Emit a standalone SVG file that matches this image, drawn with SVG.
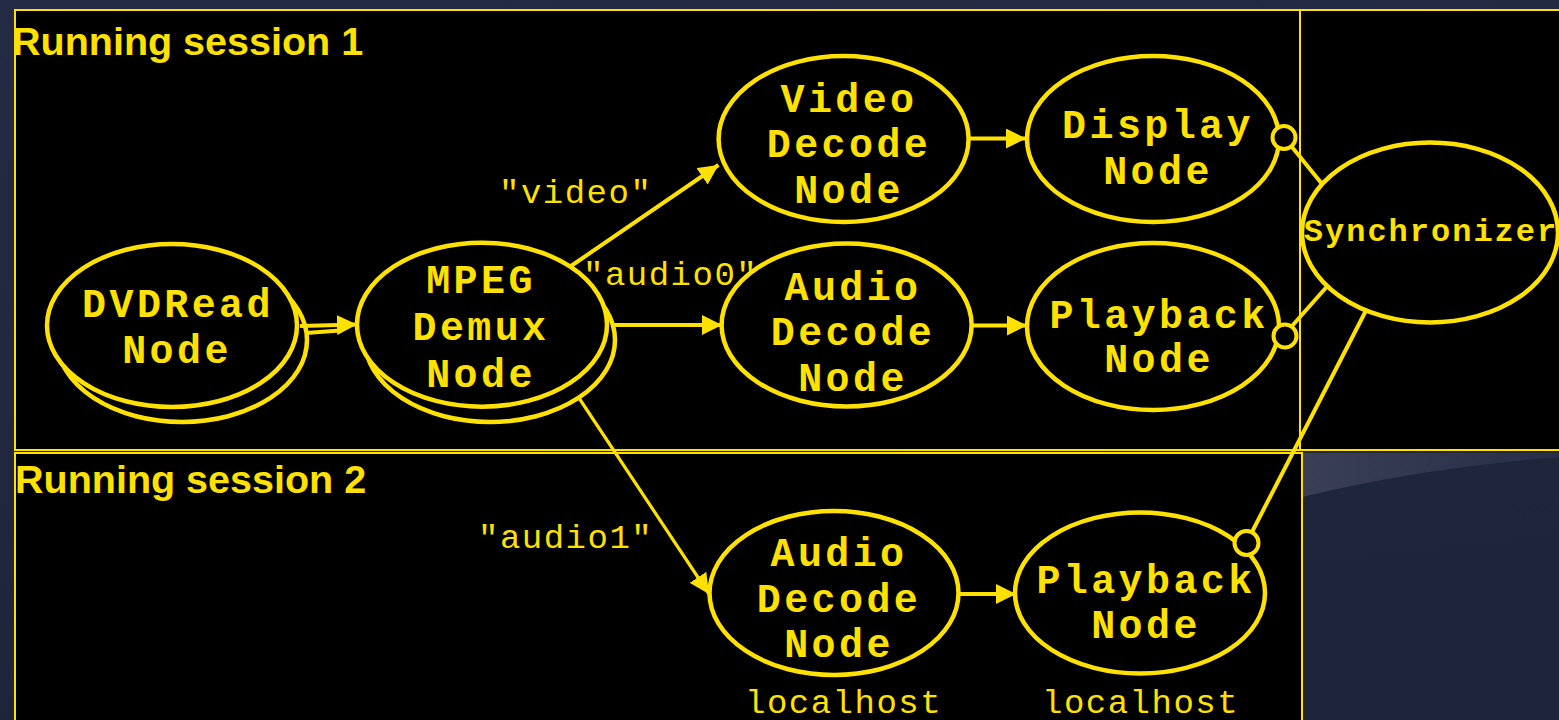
<svg xmlns="http://www.w3.org/2000/svg" width="1559" height="720" viewBox="0 0 1559 720">
  <defs>
    <linearGradient id="bg" x1="0" y1="0" x2="0.25" y2="1">
      <stop offset="0" stop-color="#242b44"/>
      <stop offset="1" stop-color="#1e243a"/>
    </linearGradient>
    <linearGradient id="sheen" x1="0" y1="0" x2="1" y2="0">
      <stop offset="0" stop-color="#41465c"/>
      <stop offset="1" stop-color="#2a3049"/>
    </linearGradient>
    <marker id="arrow" viewBox="0 0 20 20" refX="20" refY="10" markerWidth="20" markerHeight="20" markerUnits="userSpaceOnUse" orient="auto">
      <path d="M0,0 L20,10 L0,20 Z" fill="#FFE100"/>
    </marker>
  </defs>
  <style>
    .panel{fill:#000;stroke:#FFE100;stroke-width:2}
    .node{fill:#000;stroke:#FFE100;stroke-width:4.5}
    .lbl{font-family:"Liberation Mono","Courier New",monospace;font-weight:bold;font-size:40px;letter-spacing:3.4px;fill:#FFE100;text-anchor:middle}
    .sync{font-size:32px;letter-spacing:2px}
    .edge{fill:none;stroke:#FFE100;stroke-width:4}
    .thin{stroke-width:3.2}
    .elbl{font-family:"Liberation Mono","Courier New",monospace;font-size:34px;letter-spacing:1.5px;fill:#FFE100}
    .title{font-family:"Liberation Sans",Arial,sans-serif;font-weight:bold;font-size:39.5px;fill:#FFE100}
    .ball{fill:#000;stroke:#FFE100;stroke-width:4}
  </style>

  <!-- backdrop -->
  <rect x="0" y="0" width="1559" height="720" fill="url(#bg)"/>
  <path d="M1302,453 L1559,453 L1559,457 Q1420,468 1302,497 Z" fill="url(#sheen)" opacity="0.8"/>

  <!-- session panels -->
  <g id="panels">
    <rect class="panel" x="15" y="10" width="1285" height="440"/>
    <rect class="panel" x="1300" y="10" width="262" height="440"/>
    <rect class="panel" x="15" y="453" width="1287" height="270"/>
    <text class="title" x="12" y="55">Running session 1</text>
    <text class="title" x="15" y="493">Running session 2</text>
  </g>

  <!-- nodes -->
  <g id="dvdread">
    <ellipse class="node" cx="182" cy="340" rx="125" ry="82"/>
    <ellipse class="node" cx="172" cy="325.5" rx="125" ry="81.5"/>
    <text class="lbl" x="178" y="317">DVDRead</text>
    <text class="lbl" x="177" y="363">Node</text>
  </g>
  <g id="mpeg-demux">
    <ellipse class="node" cx="490" cy="340" rx="125" ry="82"/>
    <ellipse class="node" cx="482" cy="324.7" rx="125" ry="82"/>
    <text class="lbl" x="481" y="293">MPEG</text>
    <text class="lbl" x="481" y="340">Demux</text>
    <text class="lbl" x="481" y="386.5">Node</text>
  </g>
  <g id="video-decode">
    <ellipse class="node" cx="843.6" cy="139" rx="125" ry="83"/>
    <text class="lbl" x="849" y="111.7">Video</text>
    <text class="lbl" x="849" y="156.7">Decode</text>
    <text class="lbl" x="849" y="202.7">Node</text>
  </g>
  <g id="display">
    <ellipse class="node" cx="1153" cy="139" rx="126" ry="83"/>
    <text class="lbl" x="1158" y="137.5">Display</text>
    <text class="lbl" x="1158" y="183.5">Node</text>
  </g>
  <g id="audio-decode-1">
    <ellipse class="node" cx="846.6" cy="325" rx="125" ry="81.5"/>
    <text class="lbl" x="853" y="300">Audio</text>
    <text class="lbl" x="853" y="345">Decode</text>
    <text class="lbl" x="853" y="390.7">Node</text>
  </g>
  <g id="playback-1">
    <ellipse class="node" cx="1153" cy="326.5" rx="126" ry="83.5"/>
    <text class="lbl" x="1159" y="328.3">Playback</text>
    <text class="lbl" x="1159" y="371.7">Node</text>
  </g>
  <g id="synchronizer">
    <ellipse class="node" cx="1430" cy="232.5" rx="128" ry="90"/>
    <text class="lbl sync" x="1431" y="241">Synchronizer</text>
  </g>
  <g id="audio-decode-2">
    <ellipse class="node" cx="834" cy="593" rx="124.5" ry="82"/>
    <text class="lbl" x="839" y="566">Audio</text>
    <text class="lbl" x="839" y="611.7">Decode</text>
    <text class="lbl" x="839" y="656.7">Node</text>
  </g>
  <g id="playback-2">
    <ellipse class="node" cx="1140" cy="593" rx="125" ry="80.5"/>
    <text class="lbl" x="1146" y="593.3">Playback</text>
    <text class="lbl" x="1146" y="638.3">Node</text>
    <text class="elbl" x="1042" y="713">localhost</text>
  </g>
  <text class="elbl" x="745" y="713">localhost</text>

  <!-- connectors -->
  <g id="connectors">
    <line class="edge" x1="300" y1="326" x2="357" y2="324.5" marker-end="url(#arrow)"/>
    <line class="edge" x1="306" y1="333" x2="340" y2="330.5"/>
    <line class="edge" x1="571" y1="266" x2="718.5" y2="165" marker-end="url(#arrow)"/>
    <line class="edge" x1="611" y1="325" x2="722" y2="325" marker-end="url(#arrow)"/>
    <line class="edge thin" x1="579" y1="398" x2="709" y2="594" marker-end="url(#arrow)"/>
    <line class="edge" x1="969" y1="138.5" x2="1026" y2="138.5" marker-end="url(#arrow)"/>
    <line class="edge" x1="971" y1="325.5" x2="1027" y2="325.5" marker-end="url(#arrow)"/>
    <line class="edge" x1="959" y1="594" x2="1016" y2="594" marker-end="url(#arrow)"/>

    <line class="edge" x1="1292" y1="147" x2="1322.5" y2="184.5"/>
    <line class="edge" x1="1292" y1="326" x2="1327" y2="286.5"/>
    <line class="edge" x1="1252" y1="532" x2="1366" y2="310.5"/>
    <circle class="ball" cx="1284" cy="137.5" r="11.5"/>
    <circle class="ball" cx="1285" cy="336" r="11.5"/>
    <circle class="ball" cx="1246.5" cy="543" r="12"/>

    <text class="elbl" x="499" y="202.5">"video"</text>
    <text class="elbl" x="583" y="284.5">"audio0"</text>
    <text class="elbl" x="478" y="548">"audio1"</text>
  </g>
</svg>
